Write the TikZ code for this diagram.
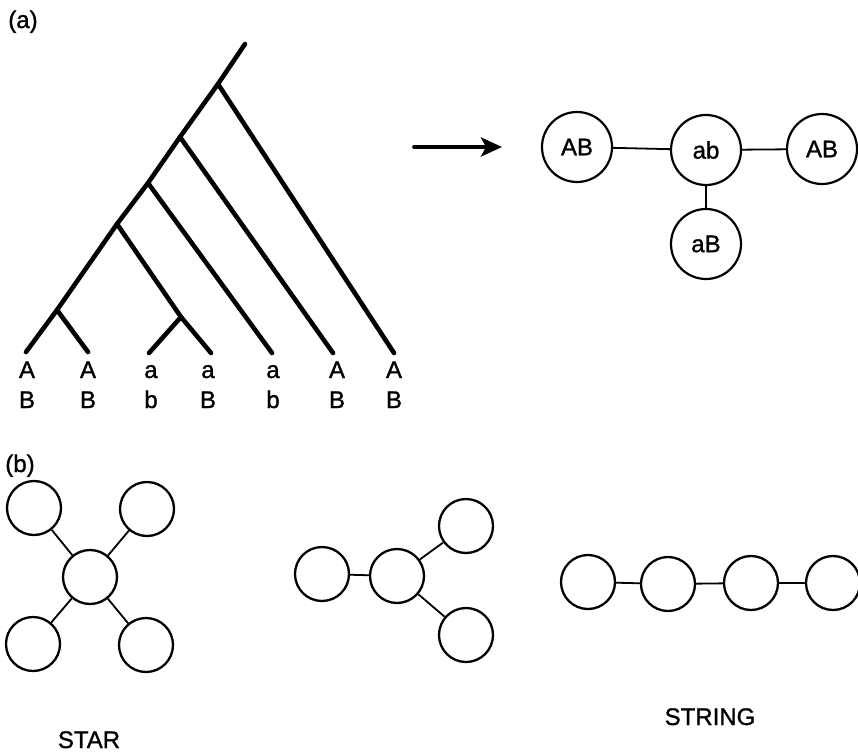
\documentclass[tikz,border=0pt]{standalone}
\usepackage{fontspec}
\setmainfont{Liberation Sans}
\newfontfamily\labfont[FakeBold=1.2]{Liberation Sans}
\usetikzlibrary{arrows.meta}
\begin{document}
\begin{tikzpicture}[x=1pt,y=-1pt,
  branch/.style={line width=4.6pt, line cap=round},
  lab/.style={font=\labfont\fontsize{24}{28}\selectfont, anchor=base, inner sep=0pt},
  hapl/.style={circle, draw, line width=2.2pt, minimum size=70pt, inner sep=0pt, font=\labfont\fontsize{24}{28}\selectfont},
  blank/.style={circle, draw, line width=2.3pt, minimum size=54pt, inner sep=0pt},
  link/.style={line width=1.8pt}]
\useasboundingbox (0,0) rectangle (858,754);

% ---- (a) gene tree ----
\node[lab] (tA) at (23,28) {(a)};
\coordinate (root) at (245,44);
\coordinate (n1) at (218,84);
\coordinate (n2) at (180,137);
\coordinate (n3) at (148,183);
\coordinate (n4) at (117,224);
\coordinate (n5) at (57,310);
\coordinate (s4) at (181,317);
\coordinate (l1) at (26,352);
\coordinate (l2) at (88,352);
\coordinate (l3) at (149,353);
\coordinate (l4) at (211,353);
\coordinate (l5) at (272,353);
\coordinate (l6) at (333,353);
\coordinate (l7) at (394,353);

\draw[branch] (root) -- (n1) -- (n2) -- (n3) -- (n4) -- (n5) -- (l1);
\draw[branch] (n5) -- (l2);
\draw[branch] (n4) -- (s4) -- (l4);
\draw[branch] (s4) -- (l3);
\draw[branch] (n3) -- (l5);
\draw[branch] (n2) -- (l6);
\draw[branch] (n1) -- (l7);

% leaf haplotypes
\foreach \x/\u/\v [count=\i] in {27/A/B, 88/A/B, 151/a/b, 208/a/B, 273/a/b, 337/A/B, 394/A/B}{
  \node[lab] (top\i) at (\x,378) {\u};
  \node[lab] (bot\i) at (\x,408) {\v};
}

% arrow
\coordinate (arS) at (414,147);
\coordinate (arE) at (502,147);
\draw[line width=3.6pt, line cap=round, -{Stealth[length=21pt,width=19pt,inset=5pt]}] (arS) -- (arE);

% haplotype network
\node[hapl] (h1) at (577,147) {AB};
\node[hapl] (h2) at (706,150) {ab};
\node[hapl] (h3) at (822,149) {AB};
\node[hapl] (h4) at (706,244) {aB};
\draw[link] (h1) -- (h2);
\draw[link] (h2) -- (h3);
\draw[link] (h2) -- (h4);

% ---- (b) network shapes ----
\node[lab] (tB) at (20,472) {(b)};

% star
\node[blank] (sc) at (90,577) {};
\node[blank] (s1) at (34,508) {};
\node[blank] (s2) at (147,509) {};
\node[blank] (s3) at (33,644) {};
\node[blank] (s5) at (146,645) {};
\foreach \n in {s1,s2,s3,s5} \draw[link] (sc) -- (\n);
\node[lab] (starlab) at (89,748) {STAR};

% branched
\node[blank] (m1) at (322,574) {};
\node[blank] (m2) at (397,576) {};
\node[blank] (m3) at (466,526) {};
\node[blank] (m4) at (466,635) {};
\draw[link] (m1) -- (m2);
\draw[link] (m2) -- (m3);
\draw[link] (m2) -- (m4);

% string
\node[blank] (c1) at (588,582) {};
\node[blank] (c2) at (668,584) {};
\node[blank] (c3) at (751,583) {};
\node[blank] (c4) at (833,583) {};
\draw[link] (c1) -- (c2) -- (c3) -- (c4);
\node[lab] (stringlab) at (710,725) {STRING};
\end{tikzpicture}
\end{document}
